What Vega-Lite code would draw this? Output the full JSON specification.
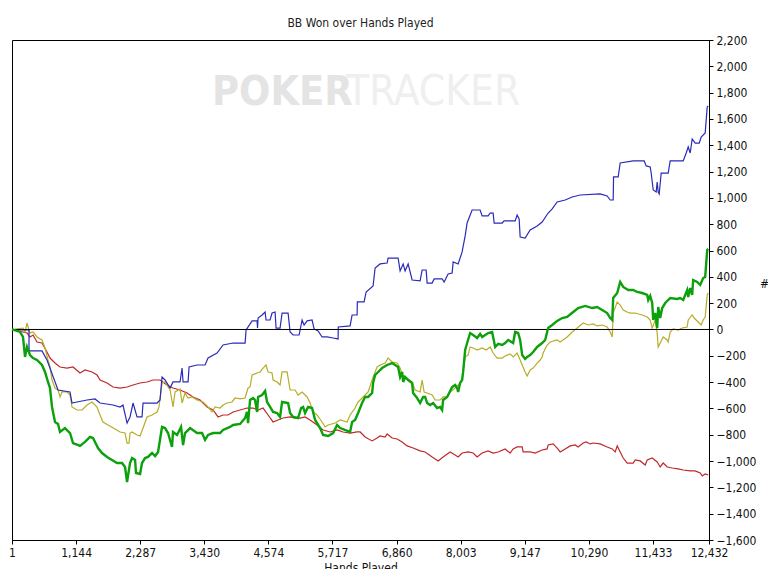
{
  "$schema": "https://vega.github.io/schema/vega-lite/v6.json",
  "width": 697,
  "height": 500,
  "autosize": {"type": "none"},
  "padding": {"left": 12, "top": 40, "right": 59, "bottom": 29},
  "background": "white",
  "title": {
    "text": "BB Won over Hands Played",
    "font": "DejaVu Sans Condensed, Liberation Sans",
    "fontSize": 12,
    "fontWeight": "normal",
    "color": "#222222",
    "offset": 4
  },
  "config": {
    "view": {"stroke": "black", "strokeWidth": 1},
    "axis": {
      "labelFont": "DejaVu Sans Condensed, Liberation Sans",
      "labelFontSize": 12,
      "labelColor": "#111111",
      "titleFont": "DejaVu Sans Condensed, Liberation Sans",
      "titleFontSize": 12,
      "titleFontWeight": "normal",
      "titleColor": "#111111",
      "domainColor": "black",
      "tickColor": "black",
      "gridColor": "#ebebeb",
      "gridWidth": 1,
      "tickSize": 4,
      "labelPadding": 3,
      "labelFlush": false,
      "labelOverlap": false
    }
  },
  "datasets": {
    "red": [
      {"h": 1, "bb": 0}, {"h": 197, "bb": -19}, {"h": 269, "bb": -27}, {"h": 322, "bb": -57}, {"h": 376, "bb": -42},
      {"h": 447, "bb": -95}, {"h": 536, "bb": -103}, {"h": 625, "bb": -171}, {"h": 679, "bb": -217}, {"h": 768, "bb": -255},
      {"h": 857, "bb": -285}, {"h": 982, "bb": -293}, {"h": 1089, "bb": -285}, {"h": 1214, "bb": -331}, {"h": 1303, "bb": -308},
      {"h": 1428, "bb": -323}, {"h": 1517, "bb": -346}, {"h": 1571, "bb": -384}, {"h": 1696, "bb": -407}, {"h": 1803, "bb": -437},
      {"h": 1928, "bb": -445}, {"h": 2053, "bb": -437}, {"h": 2160, "bb": -422}, {"h": 2285, "bb": -407}, {"h": 2409, "bb": -399},
      {"h": 2516, "bb": -384}, {"h": 2641, "bb": -384}, {"h": 2766, "bb": -422}, {"h": 2873, "bb": -445}, {"h": 2998, "bb": -460},
      {"h": 3123, "bb": -483}, {"h": 3230, "bb": -513}, {"h": 3355, "bb": -536}, {"h": 3480, "bb": -589}, {"h": 3587, "bb": -612},
      {"h": 3676, "bb": -665}, {"h": 3765, "bb": -650}, {"h": 3855, "bb": -650}, {"h": 3944, "bb": -627}, {"h": 4069, "bb": -612},
      {"h": 4193, "bb": -597}, {"h": 4300, "bb": -597}, {"h": 4390, "bb": -612}, {"h": 4479, "bb": -597}, {"h": 4568, "bb": -650},
      {"h": 4657, "bb": -703}, {"h": 4746, "bb": -688}, {"h": 4836, "bb": -673}, {"h": 4961, "bb": -665}, {"h": 5050, "bb": -673},
      {"h": 5139, "bb": -673}, {"h": 5228, "bb": -665}, {"h": 5317, "bb": -688}, {"h": 5442, "bb": -726}, {"h": 5549, "bb": -764},
      {"h": 5674, "bb": -779}, {"h": 5799, "bb": -764}, {"h": 5906, "bb": -779}, {"h": 6031, "bb": -787}, {"h": 6156, "bb": -779},
      {"h": 6210, "bb": -779}, {"h": 6299, "bb": -817}, {"h": 6424, "bb": -847}, {"h": 6513, "bb": -825}, {"h": 6566, "bb": -809},
      {"h": 6656, "bb": -817}, {"h": 6691, "bb": -794}, {"h": 6780, "bb": -825}, {"h": 6870, "bb": -832}, {"h": 6959, "bb": -855},
      {"h": 7048, "bb": -885}, {"h": 7155, "bb": -901}, {"h": 7280, "bb": -923}, {"h": 7369, "bb": -931}, {"h": 7494, "bb": -969},
      {"h": 7601, "bb": -999}, {"h": 7690, "bb": -969}, {"h": 7815, "bb": -931}, {"h": 7904, "bb": -954}, {"h": 7958, "bb": -969},
      {"h": 8029, "bb": -939}, {"h": 8136, "bb": -931}, {"h": 8225, "bb": -939}, {"h": 8297, "bb": -969}, {"h": 8386, "bb": -939},
      {"h": 8493, "bb": -923}, {"h": 8582, "bb": -939}, {"h": 8671, "bb": -931}, {"h": 8796, "bb": -908}, {"h": 8885, "bb": -939},
      {"h": 8939, "bb": -908}, {"h": 9010, "bb": -893}, {"h": 9100, "bb": -893}, {"h": 9117, "bb": -931}, {"h": 9242, "bb": -931},
      {"h": 9331, "bb": -939}, {"h": 9456, "bb": -916}, {"h": 9545, "bb": -908}, {"h": 9563, "bb": -878}, {"h": 9653, "bb": -870},
      {"h": 9724, "bb": -901}, {"h": 9778, "bb": -931}, {"h": 9867, "bb": -908}, {"h": 9956, "bb": -885}, {"h": 10045, "bb": -878},
      {"h": 10099, "bb": -893}, {"h": 10188, "bb": -863}, {"h": 10241, "bb": -855}, {"h": 10313, "bb": -870}, {"h": 10366, "bb": -863},
      {"h": 10491, "bb": -870}, {"h": 10616, "bb": -893}, {"h": 10706, "bb": -908}, {"h": 10759, "bb": -931}, {"h": 10795, "bb": -885},
      {"h": 10848, "bb": -931}, {"h": 10902, "bb": -977}, {"h": 10973, "bb": -1015}, {"h": 11080, "bb": -1015}, {"h": 11116, "bb": -992},
      {"h": 11205, "bb": -999}, {"h": 11294, "bb": -1030}, {"h": 11330, "bb": -992}, {"h": 11419, "bb": -977}, {"h": 11508, "bb": -1007},
      {"h": 11562, "bb": -1045}, {"h": 11615, "bb": -1015}, {"h": 11686, "bb": -1045}, {"h": 11775, "bb": -1053}, {"h": 11883, "bb": -1060},
      {"h": 11972, "bb": -1068}, {"h": 12097, "bb": -1075}, {"h": 12186, "bb": -1075}, {"h": 12275, "bb": -1091}, {"h": 12311, "bb": -1113},
      {"h": 12364, "bb": -1098}, {"h": 12418, "bb": -1106}
    ],
    "olive": [
      {"h": 1, "bb": 0}, {"h": 197, "bb": 11}, {"h": 233, "bb": -19}, {"h": 269, "bb": 49}, {"h": 304, "bb": -4},
      {"h": 322, "bb": -27}, {"h": 376, "bb": -19}, {"h": 447, "bb": -57}, {"h": 536, "bb": -80}, {"h": 590, "bb": -141},
      {"h": 643, "bb": -232}, {"h": 679, "bb": -285}, {"h": 715, "bb": -384}, {"h": 768, "bb": -445}, {"h": 822, "bb": -460},
      {"h": 857, "bb": -513}, {"h": 893, "bb": -475}, {"h": 982, "bb": -475}, {"h": 1036, "bb": -498}, {"h": 1071, "bb": -589},
      {"h": 1161, "bb": -612}, {"h": 1250, "bb": -612}, {"h": 1339, "bb": -574}, {"h": 1428, "bb": -551}, {"h": 1517, "bb": -589},
      {"h": 1571, "bb": -650}, {"h": 1624, "bb": -703}, {"h": 1714, "bb": -726}, {"h": 1839, "bb": -756}, {"h": 1928, "bb": -779},
      {"h": 2017, "bb": -787}, {"h": 2053, "bb": -863}, {"h": 2088, "bb": -863}, {"h": 2106, "bb": -787}, {"h": 2142, "bb": -779},
      {"h": 2231, "bb": -802}, {"h": 2285, "bb": -809}, {"h": 2338, "bb": -749}, {"h": 2409, "bb": -665}, {"h": 2499, "bb": -650},
      {"h": 2588, "bb": -627}, {"h": 2623, "bb": -589}, {"h": 2677, "bb": -407}, {"h": 2731, "bb": -399}, {"h": 2820, "bb": -460},
      {"h": 2873, "bb": -589}, {"h": 2909, "bb": -475}, {"h": 2998, "bb": -452}, {"h": 3034, "bb": -559}, {"h": 3087, "bb": -483},
      {"h": 3141, "bb": -521}, {"h": 3212, "bb": -513}, {"h": 3301, "bb": -536}, {"h": 3408, "bb": -551}, {"h": 3498, "bb": -589},
      {"h": 3569, "bb": -627}, {"h": 3623, "bb": -589}, {"h": 3712, "bb": -597}, {"h": 3765, "bb": -574}, {"h": 3837, "bb": -559},
      {"h": 3926, "bb": -551}, {"h": 3979, "bb": -521}, {"h": 4069, "bb": -528}, {"h": 4158, "bb": -521}, {"h": 4211, "bb": -445},
      {"h": 4247, "bb": -437}, {"h": 4283, "bb": -346}, {"h": 4372, "bb": -331}, {"h": 4425, "bb": -323}, {"h": 4479, "bb": -293},
      {"h": 4532, "bb": -270}, {"h": 4568, "bb": -323}, {"h": 4639, "bb": -331}, {"h": 4657, "bb": -384}, {"h": 4729, "bb": -399},
      {"h": 4782, "bb": -422}, {"h": 4818, "bb": -323}, {"h": 4907, "bb": -323}, {"h": 4961, "bb": -460}, {"h": 5050, "bb": -460},
      {"h": 5104, "bb": -498}, {"h": 5175, "bb": -475}, {"h": 5264, "bb": -513}, {"h": 5317, "bb": -559}, {"h": 5371, "bb": -627},
      {"h": 5442, "bb": -650}, {"h": 5531, "bb": -703}, {"h": 5585, "bb": -741}, {"h": 5639, "bb": -726}, {"h": 5764, "bb": -711},
      {"h": 5853, "bb": -688}, {"h": 5978, "bb": -703}, {"h": 6031, "bb": -650}, {"h": 6120, "bb": -597}, {"h": 6174, "bb": -551},
      {"h": 6245, "bb": -521}, {"h": 6299, "bb": -498}, {"h": 6352, "bb": -475}, {"h": 6441, "bb": -361}, {"h": 6513, "bb": -285},
      {"h": 6566, "bb": -270}, {"h": 6656, "bb": -255}, {"h": 6709, "bb": -217}, {"h": 6780, "bb": -247}, {"h": 6870, "bb": -255},
      {"h": 6923, "bb": -293}, {"h": 6959, "bb": -346}, {"h": 7012, "bb": -361}, {"h": 7066, "bb": -376}, {"h": 7137, "bb": -399},
      {"h": 7191, "bb": -460}, {"h": 7280, "bb": -475}, {"h": 7316, "bb": -384}, {"h": 7351, "bb": -475}, {"h": 7405, "bb": -483},
      {"h": 7494, "bb": -498}, {"h": 7548, "bb": -536}, {"h": 7637, "bb": -536}, {"h": 7690, "bb": -513}, {"h": 7762, "bb": -513},
      {"h": 7815, "bb": -475}, {"h": 7904, "bb": -445}, {"h": 7958, "bb": -422}, {"h": 8029, "bb": -384}, {"h": 8083, "bb": -209},
      {"h": 8136, "bb": -194}, {"h": 8172, "bb": -133}, {"h": 8225, "bb": -141}, {"h": 8297, "bb": -156}, {"h": 8386, "bb": -141},
      {"h": 8457, "bb": -156}, {"h": 8529, "bb": -133}, {"h": 8582, "bb": -179}, {"h": 8653, "bb": -217}, {"h": 8743, "bb": -217},
      {"h": 8796, "bb": -201}, {"h": 8885, "bb": -186}, {"h": 8939, "bb": -209}, {"h": 9010, "bb": -179}, {"h": 9064, "bb": -232},
      {"h": 9100, "bb": -270}, {"h": 9153, "bb": -323}, {"h": 9189, "bb": -353}, {"h": 9242, "bb": -308}, {"h": 9296, "bb": -293},
      {"h": 9367, "bb": -255}, {"h": 9421, "bb": -232}, {"h": 9456, "bb": -209}, {"h": 9474, "bb": -179}, {"h": 9545, "bb": -118},
      {"h": 9599, "bb": -95}, {"h": 9724, "bb": -80}, {"h": 9778, "bb": -95}, {"h": 9902, "bb": -57}, {"h": 9992, "bb": -19},
      {"h": 10081, "bb": 11}, {"h": 10188, "bb": 49}, {"h": 10277, "bb": 34}, {"h": 10366, "bb": 42}, {"h": 10438, "bb": 27},
      {"h": 10527, "bb": 34}, {"h": 10616, "bb": 19}, {"h": 10670, "bb": -19}, {"h": 10706, "bb": -57}, {"h": 10723, "bb": 125},
      {"h": 10795, "bb": 209}, {"h": 10848, "bb": 186}, {"h": 10902, "bb": 148}, {"h": 10973, "bb": 133}, {"h": 11027, "bb": 125},
      {"h": 11116, "bb": 125}, {"h": 11241, "bb": 110}, {"h": 11330, "bb": 95}, {"h": 11383, "bb": 72}, {"h": 11419, "bb": 11},
      {"h": 11473, "bb": 72}, {"h": 11508, "bb": -27}, {"h": 11526, "bb": -133}, {"h": 11562, "bb": -103}, {"h": 11615, "bb": -57},
      {"h": 11686, "bb": -80}, {"h": 11704, "bb": -95}, {"h": 11740, "bb": -19}, {"h": 11793, "bb": 4}, {"h": 11883, "bb": -4},
      {"h": 11954, "bb": 11}, {"h": 12043, "bb": 19}, {"h": 12061, "bb": 72}, {"h": 12132, "bb": 110}, {"h": 12168, "bb": 87},
      {"h": 12239, "bb": 57}, {"h": 12293, "bb": 34}, {"h": 12328, "bb": 72}, {"h": 12364, "bb": 95}, {"h": 12400, "bb": 262},
      {"h": 12418, "bb": 277}
    ],
    "blue": [
      {"h": 1, "bb": 0}, {"h": 144, "bb": -4}, {"h": 304, "bb": -4}, {"h": 305, "bb": -163}, {"h": 536, "bb": -163},
      {"h": 625, "bb": -232}, {"h": 822, "bb": -460}, {"h": 1036, "bb": -475}, {"h": 1071, "bb": -559}, {"h": 1161, "bb": -551},
      {"h": 1339, "bb": -536}, {"h": 1482, "bb": -528}, {"h": 1571, "bb": -559}, {"h": 1803, "bb": -574}, {"h": 1928, "bb": -589},
      {"h": 1980, "bb": -574}, {"h": 2053, "bb": -711}, {"h": 2106, "bb": -665}, {"h": 2160, "bb": -559}, {"h": 2231, "bb": -665},
      {"h": 2320, "bb": -665}, {"h": 2338, "bb": -559}, {"h": 2588, "bb": -559}, {"h": 2641, "bb": -536}, {"h": 2677, "bb": -361},
      {"h": 2731, "bb": -384}, {"h": 2820, "bb": -445}, {"h": 2873, "bb": -399}, {"h": 2998, "bb": -399}, {"h": 3034, "bb": -293},
      {"h": 3052, "bb": -399}, {"h": 3141, "bb": -399}, {"h": 3159, "bb": -285}, {"h": 3301, "bb": -270}, {"h": 3444, "bb": -270},
      {"h": 3498, "bb": -217}, {"h": 3658, "bb": -179}, {"h": 3765, "bb": -118}, {"h": 3944, "bb": -103}, {"h": 4158, "bb": -103},
      {"h": 4176, "bb": -4}, {"h": 4283, "bb": 65}, {"h": 4372, "bb": 65}, {"h": 4380, "bb": 11}, {"h": 4390, "bb": 87},
      {"h": 4461, "bb": 110}, {"h": 4515, "bb": 133}, {"h": 4532, "bb": 72}, {"h": 4604, "bb": 72}, {"h": 4639, "bb": 125},
      {"h": 4693, "bb": 133}, {"h": 4711, "bb": 11}, {"h": 4782, "bb": 11}, {"h": 4818, "bb": 125}, {"h": 4925, "bb": 125},
      {"h": 4961, "bb": -19}, {"h": 5014, "bb": -42}, {"h": 5121, "bb": -42}, {"h": 5175, "bb": 72}, {"h": 5210, "bb": 34},
      {"h": 5264, "bb": 65}, {"h": 5353, "bb": 72}, {"h": 5389, "bb": 4}, {"h": 5460, "bb": -11}, {"h": 5531, "bb": -57},
      {"h": 5621, "bb": -57}, {"h": 5728, "bb": -65}, {"h": 5817, "bb": -72}, {"h": 5820, "bb": 19}, {"h": 6031, "bb": 27},
      {"h": 6067, "bb": 110}, {"h": 6156, "bb": 110}, {"h": 6160, "bb": 209}, {"h": 6281, "bb": 209}, {"h": 6317, "bb": 285},
      {"h": 6441, "bb": 331}, {"h": 6477, "bb": 467}, {"h": 6566, "bb": 498}, {"h": 6691, "bb": 505}, {"h": 6709, "bb": 543},
      {"h": 6887, "bb": 543}, {"h": 6923, "bb": 445}, {"h": 6977, "bb": 498}, {"h": 7012, "bb": 445}, {"h": 7066, "bb": 498},
      {"h": 7137, "bb": 376}, {"h": 7280, "bb": 369}, {"h": 7316, "bb": 452}, {"h": 7387, "bb": 452}, {"h": 7405, "bb": 353},
      {"h": 7494, "bb": 353}, {"h": 7530, "bb": 384}, {"h": 7672, "bb": 384}, {"h": 7708, "bb": 361}, {"h": 7779, "bb": 422},
      {"h": 7851, "bb": 429}, {"h": 7869, "bb": 513}, {"h": 7958, "bb": 498}, {"h": 8029, "bb": 589}, {"h": 8083, "bb": 711},
      {"h": 8118, "bb": 809}, {"h": 8207, "bb": 908}, {"h": 8350, "bb": 908}, {"h": 8386, "bb": 863}, {"h": 8493, "bb": 863},
      {"h": 8529, "bb": 885}, {"h": 8582, "bb": 885}, {"h": 8600, "bb": 809}, {"h": 8743, "bb": 809}, {"h": 8778, "bb": 825},
      {"h": 8975, "bb": 825}, {"h": 9010, "bb": 870}, {"h": 9046, "bb": 840}, {"h": 9064, "bb": 703}, {"h": 9153, "bb": 695},
      {"h": 9242, "bb": 756}, {"h": 9367, "bb": 787}, {"h": 9456, "bb": 817}, {"h": 9563, "bb": 885}, {"h": 9635, "bb": 916},
      {"h": 9724, "bb": 969}, {"h": 9867, "bb": 984}, {"h": 9992, "bb": 1007}, {"h": 10134, "bb": 1022}, {"h": 10491, "bb": 1030},
      {"h": 10616, "bb": 1015}, {"h": 10670, "bb": 984}, {"h": 10723, "bb": 984}, {"h": 10730, "bb": 1159}, {"h": 10812, "bb": 1159},
      {"h": 10848, "bb": 1265}, {"h": 11080, "bb": 1281}, {"h": 11276, "bb": 1281}, {"h": 11312, "bb": 1243}, {"h": 11383, "bb": 1235},
      {"h": 11401, "bb": 1189}, {"h": 11437, "bb": 1060}, {"h": 11490, "bb": 1045}, {"h": 11508, "bb": 1121}, {"h": 11526, "bb": 1045},
      {"h": 11544, "bb": 1030}, {"h": 11579, "bb": 1189}, {"h": 11704, "bb": 1189}, {"h": 11740, "bb": 1281}, {"h": 11972, "bb": 1281},
      {"h": 12025, "bb": 1341}, {"h": 12061, "bb": 1387}, {"h": 12097, "bb": 1341}, {"h": 12132, "bb": 1448}, {"h": 12186, "bb": 1417},
      {"h": 12257, "bb": 1417}, {"h": 12293, "bb": 1463}, {"h": 12364, "bb": 1493}, {"h": 12400, "bb": 1691}, {"h": 12418, "bb": 1699}
    ],
    "green": [
      {"h": 1, "bb": 0}, {"h": 144, "bb": -19}, {"h": 197, "bb": -57}, {"h": 233, "bb": -209}, {"h": 269, "bb": -133},
      {"h": 322, "bb": -194}, {"h": 376, "bb": -217}, {"h": 447, "bb": -232}, {"h": 536, "bb": -270}, {"h": 590, "bb": -323},
      {"h": 643, "bb": -399}, {"h": 679, "bb": -445}, {"h": 715, "bb": -589}, {"h": 768, "bb": -703}, {"h": 822, "bb": -718},
      {"h": 857, "bb": -779}, {"h": 946, "bb": -749}, {"h": 1036, "bb": -787}, {"h": 1089, "bb": -863}, {"h": 1214, "bb": -885},
      {"h": 1303, "bb": -855}, {"h": 1393, "bb": -817}, {"h": 1446, "bb": -825}, {"h": 1535, "bb": -901}, {"h": 1607, "bb": -939},
      {"h": 1696, "bb": -969}, {"h": 1785, "bb": -992}, {"h": 1874, "bb": -1015}, {"h": 1963, "bb": -1015}, {"h": 2017, "bb": -1045},
      {"h": 2053, "bb": -1159}, {"h": 2106, "bb": -1015}, {"h": 2142, "bb": -977}, {"h": 2196, "bb": -992}, {"h": 2213, "bb": -1091},
      {"h": 2285, "bb": -1098}, {"h": 2320, "bb": -1015}, {"h": 2374, "bb": -977}, {"h": 2427, "bb": -969}, {"h": 2499, "bb": -939},
      {"h": 2553, "bb": -962}, {"h": 2606, "bb": -931}, {"h": 2677, "bb": -741}, {"h": 2731, "bb": -749}, {"h": 2784, "bb": -787},
      {"h": 2855, "bb": -893}, {"h": 2873, "bb": -779}, {"h": 2945, "bb": -802}, {"h": 3016, "bb": -741}, {"h": 3052, "bb": -878},
      {"h": 3087, "bb": -787}, {"h": 3177, "bb": -749}, {"h": 3301, "bb": -787}, {"h": 3391, "bb": -787}, {"h": 3444, "bb": -840},
      {"h": 3498, "bb": -802}, {"h": 3587, "bb": -787}, {"h": 3712, "bb": -787}, {"h": 3765, "bb": -764}, {"h": 3890, "bb": -741},
      {"h": 3944, "bb": -726}, {"h": 4069, "bb": -718}, {"h": 4158, "bb": -673}, {"h": 4193, "bb": -627}, {"h": 4211, "bb": -711},
      {"h": 4247, "bb": -536}, {"h": 4300, "bb": -521}, {"h": 4336, "bb": -536}, {"h": 4372, "bb": -627}, {"h": 4390, "bb": -513},
      {"h": 4461, "bb": -498}, {"h": 4515, "bb": -467}, {"h": 4550, "bb": -551}, {"h": 4604, "bb": -589}, {"h": 4657, "bb": -627},
      {"h": 4729, "bb": -635}, {"h": 4782, "bb": -665}, {"h": 4818, "bb": -551}, {"h": 4925, "bb": -559}, {"h": 4961, "bb": -635},
      {"h": 5014, "bb": -665}, {"h": 5104, "bb": -673}, {"h": 5157, "bb": -597}, {"h": 5193, "bb": -589}, {"h": 5228, "bb": -635},
      {"h": 5282, "bb": -589}, {"h": 5353, "bb": -597}, {"h": 5407, "bb": -688}, {"h": 5496, "bb": -749}, {"h": 5549, "bb": -802},
      {"h": 5639, "bb": -809}, {"h": 5728, "bb": -787}, {"h": 5799, "bb": -726}, {"h": 5853, "bb": -749}, {"h": 6031, "bb": -779},
      {"h": 6067, "bb": -703}, {"h": 6120, "bb": -688}, {"h": 6174, "bb": -635}, {"h": 6245, "bb": -559}, {"h": 6299, "bb": -513},
      {"h": 6352, "bb": -513}, {"h": 6424, "bb": -483}, {"h": 6441, "bb": -407}, {"h": 6477, "bb": -346}, {"h": 6531, "bb": -323},
      {"h": 6602, "bb": -293}, {"h": 6691, "bb": -270}, {"h": 6780, "bb": -255}, {"h": 6834, "bb": -270}, {"h": 6887, "bb": -285},
      {"h": 6923, "bb": -361}, {"h": 6959, "bb": -323}, {"h": 6977, "bb": -399}, {"h": 7012, "bb": -361}, {"h": 7066, "bb": -384},
      {"h": 7137, "bb": -407}, {"h": 7155, "bb": -483}, {"h": 7226, "bb": -521}, {"h": 7280, "bb": -559}, {"h": 7333, "bb": -513},
      {"h": 7369, "bb": -513}, {"h": 7405, "bb": -559}, {"h": 7458, "bb": -574}, {"h": 7512, "bb": -559}, {"h": 7583, "bb": -597},
      {"h": 7637, "bb": -589}, {"h": 7672, "bb": -612}, {"h": 7690, "bb": -536}, {"h": 7762, "bb": -513}, {"h": 7851, "bb": -437},
      {"h": 7904, "bb": -422}, {"h": 7940, "bb": -445}, {"h": 7958, "bb": -475}, {"h": 7993, "bb": -407}, {"h": 8029, "bb": -384},
      {"h": 8047, "bb": -323}, {"h": 8083, "bb": -156}, {"h": 8118, "bb": -103}, {"h": 8172, "bb": -27}, {"h": 8225, "bb": -42},
      {"h": 8297, "bb": -65}, {"h": 8350, "bb": -34}, {"h": 8386, "bb": -57}, {"h": 8440, "bb": -42}, {"h": 8493, "bb": -27},
      {"h": 8564, "bb": -19}, {"h": 8582, "bb": -57}, {"h": 8618, "bb": -133}, {"h": 8671, "bb": -110}, {"h": 8743, "bb": -118},
      {"h": 8796, "bb": -103}, {"h": 8850, "bb": -80}, {"h": 8939, "bb": -103}, {"h": 8975, "bb": -19}, {"h": 9028, "bb": -27},
      {"h": 9064, "bb": -80}, {"h": 9100, "bb": -194}, {"h": 9153, "bb": -224}, {"h": 9189, "bb": -209}, {"h": 9242, "bb": -194},
      {"h": 9296, "bb": -171}, {"h": 9367, "bb": -133}, {"h": 9456, "bb": -103}, {"h": 9510, "bb": -80}, {"h": 9563, "bb": 11},
      {"h": 9635, "bb": 34}, {"h": 9724, "bb": 65}, {"h": 9813, "bb": 87}, {"h": 9902, "bb": 95}, {"h": 10010, "bb": 133},
      {"h": 10099, "bb": 163}, {"h": 10224, "bb": 179}, {"h": 10349, "bb": 163}, {"h": 10438, "bb": 171}, {"h": 10527, "bb": 148},
      {"h": 10616, "bb": 125}, {"h": 10670, "bb": 87}, {"h": 10706, "bb": 72}, {"h": 10723, "bb": 239}, {"h": 10795, "bb": 277},
      {"h": 10848, "bb": 361}, {"h": 10902, "bb": 323}, {"h": 10991, "bb": 300}, {"h": 11080, "bb": 300}, {"h": 11151, "bb": 285},
      {"h": 11241, "bb": 277}, {"h": 11330, "bb": 262}, {"h": 11348, "bb": 224}, {"h": 11383, "bb": 255}, {"h": 11419, "bb": 201},
      {"h": 11437, "bb": 72}, {"h": 11473, "bb": 125}, {"h": 11508, "bb": 11}, {"h": 11526, "bb": 171}, {"h": 11562, "bb": 87},
      {"h": 11597, "bb": 163}, {"h": 11651, "bb": 201}, {"h": 11704, "bb": 224}, {"h": 11740, "bb": 239}, {"h": 11865, "bb": 232},
      {"h": 11918, "bb": 239}, {"h": 11972, "bb": 224}, {"h": 12043, "bb": 300}, {"h": 12061, "bb": 247}, {"h": 12097, "bb": 315},
      {"h": 12132, "bb": 262}, {"h": 12150, "bb": 376}, {"h": 12221, "bb": 361}, {"h": 12275, "bb": 338}, {"h": 12328, "bb": 391},
      {"h": 12364, "bb": 399}, {"h": 12400, "bb": 604}, {"h": 12418, "bb": 612}
    ],
    "marks": [
      {"word": "POKER"},
      {"word": "TRACKER"}
    ]
  },
  "layer": [
    {
      "data": {"name": "marks"},
      "transform": [{"filter": "datum.word === 'POKER'"}],
      "mark": {"type": "text", "align": "left", "baseline": "alphabetic", "font": "DejaVu Sans Condensed, Liberation Sans", "fontWeight": "bold", "fontSize": 41, "color": "#e4e4e4"},
      "encoding": {
        "x": {
          "datum": 3569, "type": "quantitative", "title": "Hands Played",
          "scale": {"domain": [1, 12432], "nice": false, "zero": false},
          "axis": {"values": [1, 1144, 2287, 3430, 4574, 5717, 6860, 8003, 9147, 10290, 11433, 12432], "format": ",d", "titlePadding": 4}
        },
        "y": {
          "datum": 1706, "type": "quantitative", "title": "#",
          "scale": {"domain": [-1600, 2200], "nice": false, "zero": false},
          "axis": {"orient": "right", "values": [-1600, -1400, -1200, -1000, -800, -600, -400, -200, 0, 200, 400, 600, 800, 1000, 1200, 1400, 1600, 1800, 2000, 2200], "format": ",d", "titleAngle": 0, "titlePadding": 8}
        },
        "text": {"field": "word", "type": "nominal"}
      }
    },
    {
      "data": {"name": "marks"},
      "transform": [{"filter": "datum.word === 'TRACKER'"}],
      "mark": {"type": "text", "align": "left", "baseline": "alphabetic", "font": "DejaVu Sans Condensed, Liberation Sans", "fontWeight": "normal", "fontSize": 42, "color": "#efefef"},
      "encoding": {
        "x": {
          "datum": 5960, "type": "quantitative", "title": "Hands Played",
          "scale": {"domain": [1, 12432], "nice": false, "zero": false},
          "axis": {"values": [1, 1144, 2287, 3430, 4574, 5717, 6860, 8003, 9147, 10290, 11433, 12432], "format": ",d", "titlePadding": 4}
        },
        "y": {
          "datum": 1706, "type": "quantitative", "title": "#",
          "scale": {"domain": [-1600, 2200], "nice": false, "zero": false},
          "axis": {"orient": "right", "values": [-1600, -1400, -1200, -1000, -800, -600, -400, -200, 0, 200, 400, 600, 800, 1000, 1200, 1400, 1600, 1800, 2000, 2200], "format": ",d", "titleAngle": 0, "titlePadding": 8}
        },
        "text": {"field": "word", "type": "nominal"}
      }
    },
    {
      "encoding": {
        "x": {
          "field": "h", "type": "quantitative", "title": "Hands Played",
          "scale": {"domain": [1, 12432], "nice": false, "zero": false},
          "axis": {"values": [1, 1144, 2287, 3430, 4574, 5717, 6860, 8003, 9147, 10290, 11433, 12432], "format": ",d", "titlePadding": 4}
        },
        "y": {
          "field": "bb", "type": "quantitative", "title": "#",
          "scale": {"domain": [-1600, 2200], "nice": false, "zero": false},
          "axis": {"orient": "right", "values": [-1600, -1400, -1200, -1000, -800, -600, -400, -200, 0, 200, 400, 600, 800, 1000, 1200, 1400, 1600, 1800, 2000, 2200], "format": ",d", "titleAngle": 0, "titlePadding": 8}
        }
      },
      "layer": [
        {"data": {"name": "red"}, "mark": {"type": "line", "color": "#c0282a", "strokeWidth": 1.2}},
        {"data": {"name": "olive"}, "mark": {"type": "line", "color": "#b7ad28", "strokeWidth": 1.2}},
        {"data": {"name": "blue"}, "mark": {"type": "line", "color": "#2a2ab8", "strokeWidth": 1.2}},
        {
          "data": {"values": [{"bb": 0}]},
          "mark": {"type": "rule", "color": "black", "strokeWidth": 1},
          "encoding": {"x": null}
        },
        {"data": {"name": "green"}, "mark": {"type": "line", "color": "#0ca00c", "strokeWidth": 2.4}}
      ]
    }
  ]
}
